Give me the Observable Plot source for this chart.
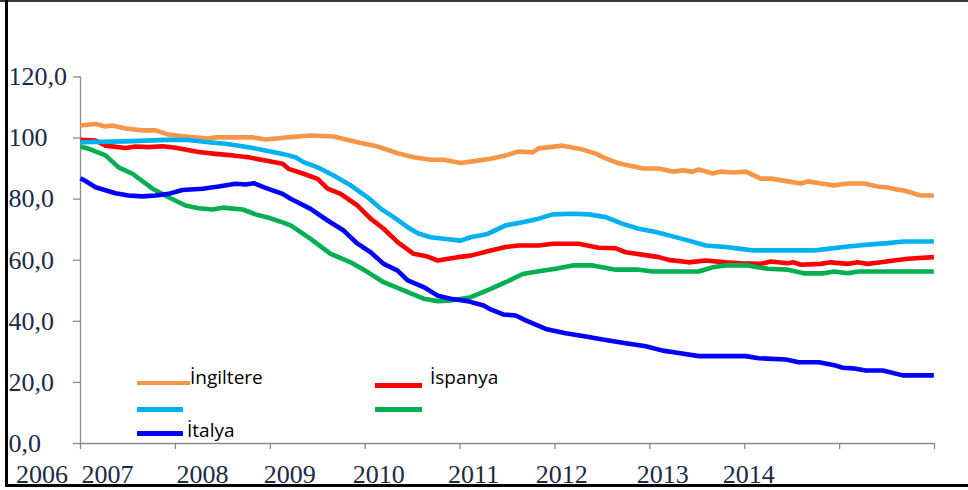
<!DOCTYPE html>
<html><head><meta charset="utf-8">
<script src="https://cdn.jsdelivr.net/npm/d3@7"></script>
<script src="https://cdn.jsdelivr.net/npm/@observablehq/plot@0.6"></script>
<style>
html,body{margin:0;padding:0;background:#fff;}
#wrap{position:relative;width:968px;height:490px;overflow:hidden;background:#fff;}
#chart{position:absolute;left:0;top:0;}
.bd{position:absolute;}
.lg{position:absolute;}
.lt{position:absolute;font-family:"Open Sans",sans-serif;font-size:19px;color:#000;white-space:nowrap;line-height:19px;}
</style></head>
<body>
<div id="wrap">
  <div id="chart"></div>
  <div id="legend"></div>
  <div class="bd" style="left:0;top:0;width:968px;height:2px;background:#3a3a3a"></div>
  <div class="bd" style="left:5px;top:0;width:3px;height:487px;background:#000"></div>
  <div class="bd" style="left:5px;top:484px;width:963px;height:3px;background:#000"></div>
</div>
<script>
// ---- data (t = years from the first axis tick) ----
const seriesKeys = ["İngiltere", "İspanya", "Seri3", "Seri4", "İtalya"];
const legendLabels = ["İngiltere", "İspanya", "", "", "İtalya"];
const seriesColors = ["#F79646", "#FF0000", "#00B0F0", "#00B050", "#0000FF"];

const ingiltere = [[0,104.1],[0.158,104.6],[0.264,103.8],[0.337,104.1],[0.474,103.1],[0.654,102.5],[0.791,102.5],[0.928,101.1],[1.107,100.5],[1.350,99.8],[1.423,100.2],[1.813,100.2],[1.950,99.5],[2.056,99.8],[2.214,100.3],[2.425,100.8],[2.667,100.5],[2.920,98.6],[3.131,97.2],[3.342,95.0],[3.511,93.7],[3.690,92.9],[3.827,92.9],[4.006,91.8],[4.186,92.6],[4.323,93.2],[4.481,94.3],[4.618,95.6],[4.765,95.3],[4.829,96.6],[5.082,97.5],[5.293,96.2],[5.430,94.9],[5.535,93.3],[5.672,91.7],[5.925,90.0],[6.094,90.0],[6.241,89.0],[6.347,89.4],[6.452,89.0],[6.516,89.7],[6.663,88.4],[6.748,89.0],[6.885,88.7],[7.011,89.0],[7.169,86.7],[7.275,86.7],[7.454,85.8],[7.591,85.1],[7.665,85.8],[7.802,85.1],[7.939,84.5],[8.087,85.1],[8.255,85.1],[8.403,84.1],[8.508,83.8],[8.614,83.1],[8.677,82.8],[8.856,81.2],[8.993,81.2]];

const ispanya = [[0,99.4],[0.158,99.2],[0.264,97.5],[0.474,96.7],[0.580,97.2],[0.717,97.0],[0.865,97.3],[1.002,96.8],[1.244,95.4],[1.423,94.8],[1.603,94.3],[1.771,93.7],[1.950,92.6],[2.130,91.6],[2.193,89.9],[2.351,88.3],[2.499,86.6],[2.604,83.4],[2.741,81.7],[2.920,77.9],[3.057,73.6],[3.195,70.3],[3.342,65.9],[3.511,62.1],[3.658,61.2],[3.764,59.9],[3.975,61.0],[4.112,61.5],[4.323,63.2],[4.481,64.3],[4.618,64.8],[4.829,64.8],[4.976,65.4],[5.250,65.4],[5.461,64.1],[5.641,63.9],[5.746,62.6],[5.988,61.5],[6.094,61.0],[6.199,60.1],[6.410,59.3],[6.589,59.9],[6.800,59.3],[6.958,59.0],[7.169,58.8],[7.275,59.6],[7.454,59.0],[7.517,59.3],[7.591,58.5],[7.802,58.8],[7.907,59.3],[8.087,58.8],[8.192,59.3],[8.297,58.8],[8.434,59.3],[8.571,59.9],[8.719,60.5],[8.993,61.0]];

const seri3 = [[0,98.6],[0.474,98.9],[0.896,99.4],[1.107,99.4],[1.350,98.6],[1.529,98.1],[1.771,97.0],[1.950,95.9],[2.130,94.8],[2.267,93.7],[2.351,92.1],[2.499,90.4],[2.667,87.7],[2.847,84.5],[3.026,80.6],[3.163,76.9],[3.300,74.1],[3.448,70.8],[3.553,68.8],[3.690,67.5],[3.827,67.0],[4.006,66.4],[4.112,67.5],[4.291,68.6],[4.481,71.4],[4.660,72.4],[4.829,73.6],[4.976,75.0],[5.187,75.2],[5.356,75.0],[5.535,74.1],[5.714,71.9],[5.883,70.3],[6.062,69.2],[6.241,67.8],[6.410,66.4],[6.589,64.8],[6.800,64.3],[6.958,63.7],[7.095,63.2],[7.728,63.2],[7.876,63.7],[8.087,64.5],[8.297,65.1],[8.508,65.6],[8.677,66.1],[8.993,66.1]];

const seri4 = [[0,97.2],[0.084,96.5],[0.264,94.3],[0.401,90.4],[0.548,88.3],[0.759,83.4],[0.928,80.6],[1.107,77.9],[1.244,77.0],[1.392,76.6],[1.497,77.2],[1.708,76.6],[1.845,75.0],[1.982,73.9],[2.130,72.4],[2.214,71.4],[2.425,67.0],[2.636,62.1],[2.847,59.3],[3.026,56.1],[3.195,52.8],[3.405,50.1],[3.616,47.4],[3.764,46.6],[3.901,46.8],[4.112,47.9],[4.323,50.6],[4.481,52.8],[4.660,55.5],[4.829,56.4],[5.008,57.2],[5.187,58.3],[5.398,58.3],[5.641,56.9],[5.883,56.9],[6.031,56.3],[6.516,56.3],[6.663,57.7],[6.800,58.3],[7.032,58.3],[7.138,57.7],[7.243,57.2],[7.454,56.9],[7.623,55.7],[7.834,55.7],[7.939,56.3],[8.087,55.7],[8.192,56.3],[8.993,56.3]];

const italya = [[0,86.8],[0.053,85.9],[0.158,83.9],[0.369,81.9],[0.506,81.2],[0.654,80.9],[0.791,81.2],[0.928,81.7],[1.075,83.0],[1.286,83.4],[1.455,84.1],[1.634,85.0],[1.740,84.8],[1.824,85.2],[1.950,83.7],[2.130,81.7],[2.214,80.1],[2.425,76.8],[2.604,73.0],[2.773,69.7],[2.920,65.4],[3.057,62.6],[3.195,58.8],[3.342,56.6],[3.448,53.4],[3.616,51.2],[3.764,48.4],[3.901,47.4],[4.080,46.6],[4.249,45.2],[4.323,43.9],[4.460,42.2],[4.586,41.9],[4.692,40.3],[4.903,37.5],[5.113,36.1],[5.324,35.0],[5.535,33.9],[5.746,32.8],[5.957,31.8],[6.136,30.4],[6.305,29.6],[6.516,28.6],[7.011,28.6],[7.148,27.9],[7.433,27.5],[7.570,26.6],[7.781,26.6],[7.960,25.5],[8.034,24.8],[8.139,24.6],[8.276,23.9],[8.455,23.9],[8.666,22.3],[8.993,22.3]];

const yTicks = [0, 20, 40, 60, 80, 100, 120];
const yTickLabels = ["0,0", "20,0", "40,0", "60,0", "80,0", "100", "120,0"];
const xTicks = [0, 1, 2, 3, 4, 5, 6, 7, 8, 9];
const xLabels = ["2006", "2007", "2008", "2009", "2010", "2011", "2012", "2013", "2014"];
const xLabelAt = [-0.406, 0.285, 1.286, 2.204, 3.142, 4.143, 5.071, 6.136, 7.043];

// ---- build table ----
const allSeries = [ingiltere, ispanya, seri3, seri4, italya];
const rows = allSeries.flatMap((s, i) => s.map(([t, v]) => ({key: seriesKeys[i], t, v})));

const axisGray = "#8a8a8a";
const labelColor = "#1b2a47";

const chart = Plot.plot({
  width: 968,
  height: 490,
  marginLeft: 80,
  marginRight: 34,
  marginTop: 76.4,
  marginBottom: 47,
  style: {background: "transparent", overflow: "visible"},
  x: {domain: [0, 9], axis: null},
  y: {domain: [0, 120], axis: null},
  color: {domain: seriesKeys, range: seriesColors},
  marks: [
    Plot.axisY({ticks: yTicks, tickSize: 7, tickFormat: () => "", stroke: axisGray, strokeWidth: 1.3, label: null}),
    Plot.axisX({ticks: xTicks, tickSize: 6, tickFormat: () => "", stroke: axisGray, strokeWidth: 1.3, label: null}),
    Plot.ruleX([0], {stroke: axisGray, strokeWidth: 1.3}),
    Plot.ruleY([0], {stroke: axisGray, strokeWidth: 1.3}),
    Plot.text(yTicks, {y: d => d, text: (d, i) => yTickLabels[i], frameAnchor: "left", textAnchor: "start", dx: -72, lineAnchor: "middle", fontSize: 26, fontFamily: "Liberation Serif", fill: labelColor}),
    Plot.text(xLabels, {x: (d, i) => xLabelAt[i], text: d => d, frameAnchor: "bottom", lineAnchor: "bottom", dy: 39, textAnchor: "middle", fontSize: 26, fontFamily: "Liberation Serif", fill: labelColor}),
    Plot.line(rows, {x: "t", y: "v", z: "key", stroke: "key", strokeWidth: 4.6, strokeLinejoin: "round", strokeLinecap: "butt"})
  ]
});
document.getElementById("chart").appendChild(chart);

// ---- legend (inside the plot area) ----
const legendSlots = [
  {lx: 137, ly: 381, lw: 53, lh: 4, tx: 190, ty: 368},
  {lx: 375, ly: 383, lw: 47, lh: 5, tx: 430, ty: 368},
  {lx: 137, ly: 407, lw: 46, lh: 5, tx: 187, ty: 393},
  {lx: 375, ly: 407, lw: 47, lh: 5, tx: 430, ty: 393},
  {lx: 137, ly: 431, lw: 46, lh: 5, tx: 187, ty: 421}
];
const leg = document.getElementById("legend");
seriesKeys.forEach((k, i) => {
  const s = legendSlots[i];
  const ln = document.createElement("div");
  ln.className = "lg";
  ln.style.cssText = `left:${s.lx}px;top:${s.ly}px;width:${s.lw}px;height:${s.lh}px;background:${seriesColors[i]}`;
  leg.appendChild(ln);
  if (legendLabels[i]) {
    const t = document.createElement("div");
    t.className = "lt";
    t.style.left = s.tx + "px";
    t.style.top = s.ty + "px";
    t.textContent = legendLabels[i];
    leg.appendChild(t);
  }
});
</script>
</body></html>
